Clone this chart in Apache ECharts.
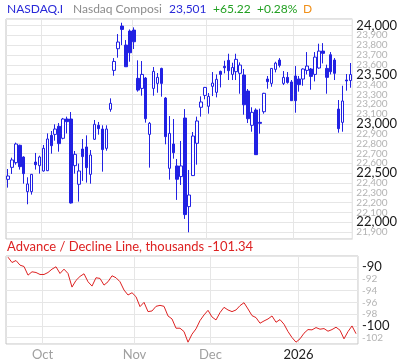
<!DOCTYPE html>
<html><head><meta charset="utf-8">
<script src="https://cdn.jsdelivr.net/npm/echarts@6/dist/echarts.min.js"></script>
<style>html,body{margin:0;padding:0;background:#fff}#c{width:400px;height:362px}</style>
</head><body><div id="c"></div>
<script>
const dates = [
"2025-09-18","2025-09-19","2025-09-22","2025-09-23","2025-09-24","2025-09-25","2025-09-26","2025-09-29","2025-09-30",
"2025-10-01","2025-10-02","2025-10-03","2025-10-06","2025-10-07","2025-10-08","2025-10-09","2025-10-10","2025-10-13","2025-10-14","2025-10-15","2025-10-16","2025-10-17","2025-10-20","2025-10-21","2025-10-22","2025-10-23","2025-10-24","2025-10-27","2025-10-28","2025-10-29","2025-10-30","2025-10-31",
"2025-11-03","2025-11-04","2025-11-05","2025-11-06","2025-11-07","2025-11-10","2025-11-11","2025-11-12","2025-11-13","2025-11-14","2025-11-17","2025-11-18","2025-11-19","2025-11-20","2025-11-21","2025-11-24","2025-11-25","2025-11-26","2025-11-28",
"2025-12-01","2025-12-02","2025-12-03","2025-12-04","2025-12-05","2025-12-08","2025-12-09","2025-12-10","2025-12-11","2025-12-12","2025-12-15","2025-12-16","2025-12-17","2025-12-18","2025-12-19","2025-12-22","2025-12-23","2025-12-24","2025-12-26","2025-12-29","2025-12-30","2025-12-31",
"2026-01-02","2026-01-05","2026-01-06","2026-01-07","2026-01-08","2026-01-09","2026-01-12","2026-01-13","2026-01-14","2026-01-15","2026-01-16","2026-01-20","2026-01-21","2026-01-22","2026-01-23"
];
const open  = [22436,22558,22606,22782,22663,22311,22311,22612,22575,22521,22524,22883,22893,22975,22853,23049,23049,22575,22386,22744,22765,22487,22843,22985,22947,22751,23147,23543,23763,23993,23800,23942,23952,23462,23360,23465,22893,23360,23411,23563,23262,22548,22795,22572,22464,23059,22159,22474,22802,23168,23289,23178,23381,23320,23533,23584,23645,23502,23530,23513,23496,23333,22985,23140,23015,23123,23455,23411,23553,23648,23411,23472,23425,23486,23455,23455,23543,23557,23502,23567,23739,23563,23702,23648,23150,23015,23445,23440];
const close = [22470,22633,22795,22565,22494,22389,22487,22585,22663,22751,22846,22778,22947,22799,23049,23022,22196,22690,22521,22667,22555,22683,22995,22951,22738,22947,23208,23634,23831,23959,23580,23722,23834,23343,23502,23052,23005,23533,23472,23411,22870,22903,22707,22437,22572,22078,22277,22876,23029,23222,23370,23279,23414,23452,23502,23570,23540,23573,23655,23597,23194,23052,23117,22687,23005,23310,23428,23563,23617,23594,23472,23421,23235,23235,23398,23557,23587,23482,23678,23739,23716,23472,23530,23513,22951,23232,23436,23501];
const low   = [22352,22491,22585,22535,22392,22183,22281,22535,22494,22514,22520,22697,22829,22717,22843,22903,22190,22494,22210,22420,22403,22392,22836,22890,22514,22727,23123,23489,23672,23800,23580,23631,23760,23327,23286,23012,22555,23286,23316,23276,22792,22433,22646,22227,22379,22034,21898,22470,22585,23073,23249,23103,23282,23269,23370,23513,23445,23445,23445,23306,23093,23008,22920,22687,22900,23103,23357,23377,23523,23573,23394,23408,23235,23113,23327,23387,23502,23347,23431,23560,23614,23306,23502,23445,22910,22920,23337,23367];
const high  = [22541,22656,22809,22788,22670,22457,22490,22704,22677,22785,22903,22927,22995,23008,23060,23073,23120,22724,22596,22846,22883,22734,23039,23019,22985,22985,23259,23668,23912,24027,23851,23959,23980,23645,23638,23475,23019,23577,23516,23570,23272,23079,23049,22643,22826,23150,22531,22917,23073,23279,23375,23313,23526,23502,23540,23641,23712,23621,23712,23624,23557,23354,23168,23157,23154,23315,23486,23565,23631,23668,23536,23526,23445,23587,23486,23563,23729,23567,23729,23814,23820,23601,23729,23668,23242,23387,23506,23618];
const adLine = [-88.30,-89.21,-88.87,-89.66,-89.89,-91.36,-90.79,-90.91,-91.25,-91.25,-90.91,-90.34,-89.94,-91.08,-90.34,-91.08,-93.40,-92.26,-91.58,-91.13,-92.49,-93.23,-91.81,-91.92,-93.06,-92.49,-91.47,-91.81,-92.49,-93.90,-94.75,-94.36,-95.04,-96.73,-96.00,-97.58,-97.47,-96.68,-96.51,-96.68,-98.32,-98.83,-100.41,-100.41,-100.98,-102.79,-101.43,-100.52,-99.11,-98.15,-97.36,-98.49,-99.00,-97.75,-96.85,-97.30,-97.58,-97.30,-96.56,-96.06,-97.13,-98.26,-98.60,-99.56,-99.17,-98.83,-98.32,-99.39,-98.94,-99.73,-100.98,-102.00,-102.79,-102.22,-101.26,-100.64,-100.69,-100.30,-100.58,-100.47,-100.92,-100.64,-100.24,-100.75,-102.22,-100.98,-100.02,-101.34];
const monthNames = {"01":"2026","10":"Oct","11":"Nov","12":"Dec"};

const BLUE = '#2121e3', RED = '#dd2222', FONT = 'Lato';
const isMonthStart = i => i > 0 && dates[i].slice(5,7) !== dates[i-1].slice(5,7);
const candleData = dates.map((d,i) => [open[i], close[i], low[i], high[i]]);

const chart = echarts.init(document.getElementById('c'), null, {renderer:'canvas'});
const gridL = 6, gridW = 352;
chart.setOption({
  animation: false,
  textStyle: {fontFamily: FONT},
  grid: [
    {left: gridL, width: gridW, top: 19, height: 220, show: true, borderColor: '#c4c4c4', borderWidth: 1, backgroundColor: 'transparent'},
    {left: gridL, width: gridW, top: 256, height: 88, show: true, borderColor: '#c4c4c4', borderWidth: 1, backgroundColor: 'transparent'}
  ],
  xAxis: [
    {type: 'category', gridIndex: 0, data: dates, boundaryGap: true,
     axisLine: {show: false}, axisTick: {show: false}, axisLabel: {show: false},
     splitLine: {show: true, interval: (i) => isMonthStart(i), lineStyle: {color: '#e6e6e6', width: 1}}},
    {type: 'category', gridIndex: 1, data: dates, boundaryGap: true,
     axisLine: {show: false}, axisTick: {show: false},
     axisLabel: {show: true, interval: (i) => isMonthStart(i), margin: 4, fontFamily: FONT,
       formatter: (v) => { const m = monthNames[v.slice(5,7)]; return m === '2026' ? '{y|' + m + '}' : '{m|' + m + '}'; },
       rich: {m: {color: '#a0a0a0', fontSize: 13, fontFamily: FONT, padding: [0,3,0,0]}, y: {color: '#222', fontSize: 13, fontFamily: FONT, padding: [0,3,0,0]}}},
     splitLine: {show: true, interval: (i) => isMonthStart(i), lineStyle: {color: '#e6e6e6', width: 1}}}
  ],
  yAxis: [
    {type: 'value', gridIndex: 0, position: 'right', min: 21830, max: 24065, splitNumber: 22, minInterval: 100, maxInterval: 100,
     axisLine: {show: false}, axisTick: {show: false},
     splitLine: {show: true, lineStyle: {color: '#e6e6e6', width: 1}},
     axisLabel: {show: true, margin: 4, showMinLabel: false, showMaxLabel: false,
       formatter: (v) => { if (Math.round(v) % 100 !== 0) return ''; const s = Math.round(v).toLocaleString('en-US'); return (Math.round(v) % 500 === 0) ? '{a|' + s + '}' : '{b|' + s + '}'; },
       rich: {a: {color: '#1a1a1a', fontSize: 13, fontFamily: FONT}, b: {color: '#b4b4b4', fontSize: 10, fontFamily: FONT}}}},
    {type: 'value', gridIndex: 1, position: 'right', min: -103.1, max: -88.1, splitNumber: 8, minInterval: 2, maxInterval: 2,
     axisLine: {show: false}, axisTick: {show: false},
     splitLine: {show: true, lineStyle: {color: '#e6e6e6', width: 1}},
     axisLabel: {show: true, margin: 4, showMinLabel: false, showMaxLabel: false,
       formatter: (v) => { const r = Math.round(v); if (Math.abs(v - r) > 1e-6 || r % 2 !== 0) return ''; return (r % 10 === 0) ? '{a|' + r + '}' : '{b|' + r + '}'; },
       rich: {a: {color: '#1a1a1a', fontSize: 13, fontFamily: FONT}, b: {color: '#b4b4b4', fontSize: 10, fontFamily: FONT}}}}
  ],
  series: [
    {type: 'candlestick', xAxisIndex: 0, yAxisIndex: 0, data: candleData, barWidth: 3,
     itemStyle: {color: '#ffffff', color0: BLUE, borderColor: BLUE, borderColor0: BLUE, borderWidth: 1}},
    {type: 'line', xAxisIndex: 1, yAxisIndex: 1, data: adLine, symbol: 'none', smooth: false,
     lineStyle: {color: RED, width: 1}}
  ],
  graphic: [
    {type: 'text', left: 7, top: 3, style: {text: 'NASDAQ.I', fill: '#2a2ad8', font: '12px Lato'}},
    {type: 'text', left: 73, top: 3, style: {text: 'Nasdaq Composi', fill: '#8c8c8c', font: '12px Lato'}},
    {type: 'text', left: 169, top: 3, style: {text: '23,501', fill: '#2a2ad8', font: '12px Lato'}},
    {type: 'text', left: 213, top: 3, style: {text: '+65.22', fill: '#22a022', font: '12px Lato'}},
    {type: 'text', left: 257, top: 3, style: {text: '+0.28%', fill: '#22a022', font: '12px Lato'}},
    {type: 'text', left: 303, top: 3, style: {text: 'D', fill: '#f0901a', font: '12px Lato'}},
    {type: 'text', left: 7, top: 240, style: {text: 'Advance / Decline Line, thousands -101.34', fill: RED, font: '13px Lato'}}
  ]
});
</script></body></html>
